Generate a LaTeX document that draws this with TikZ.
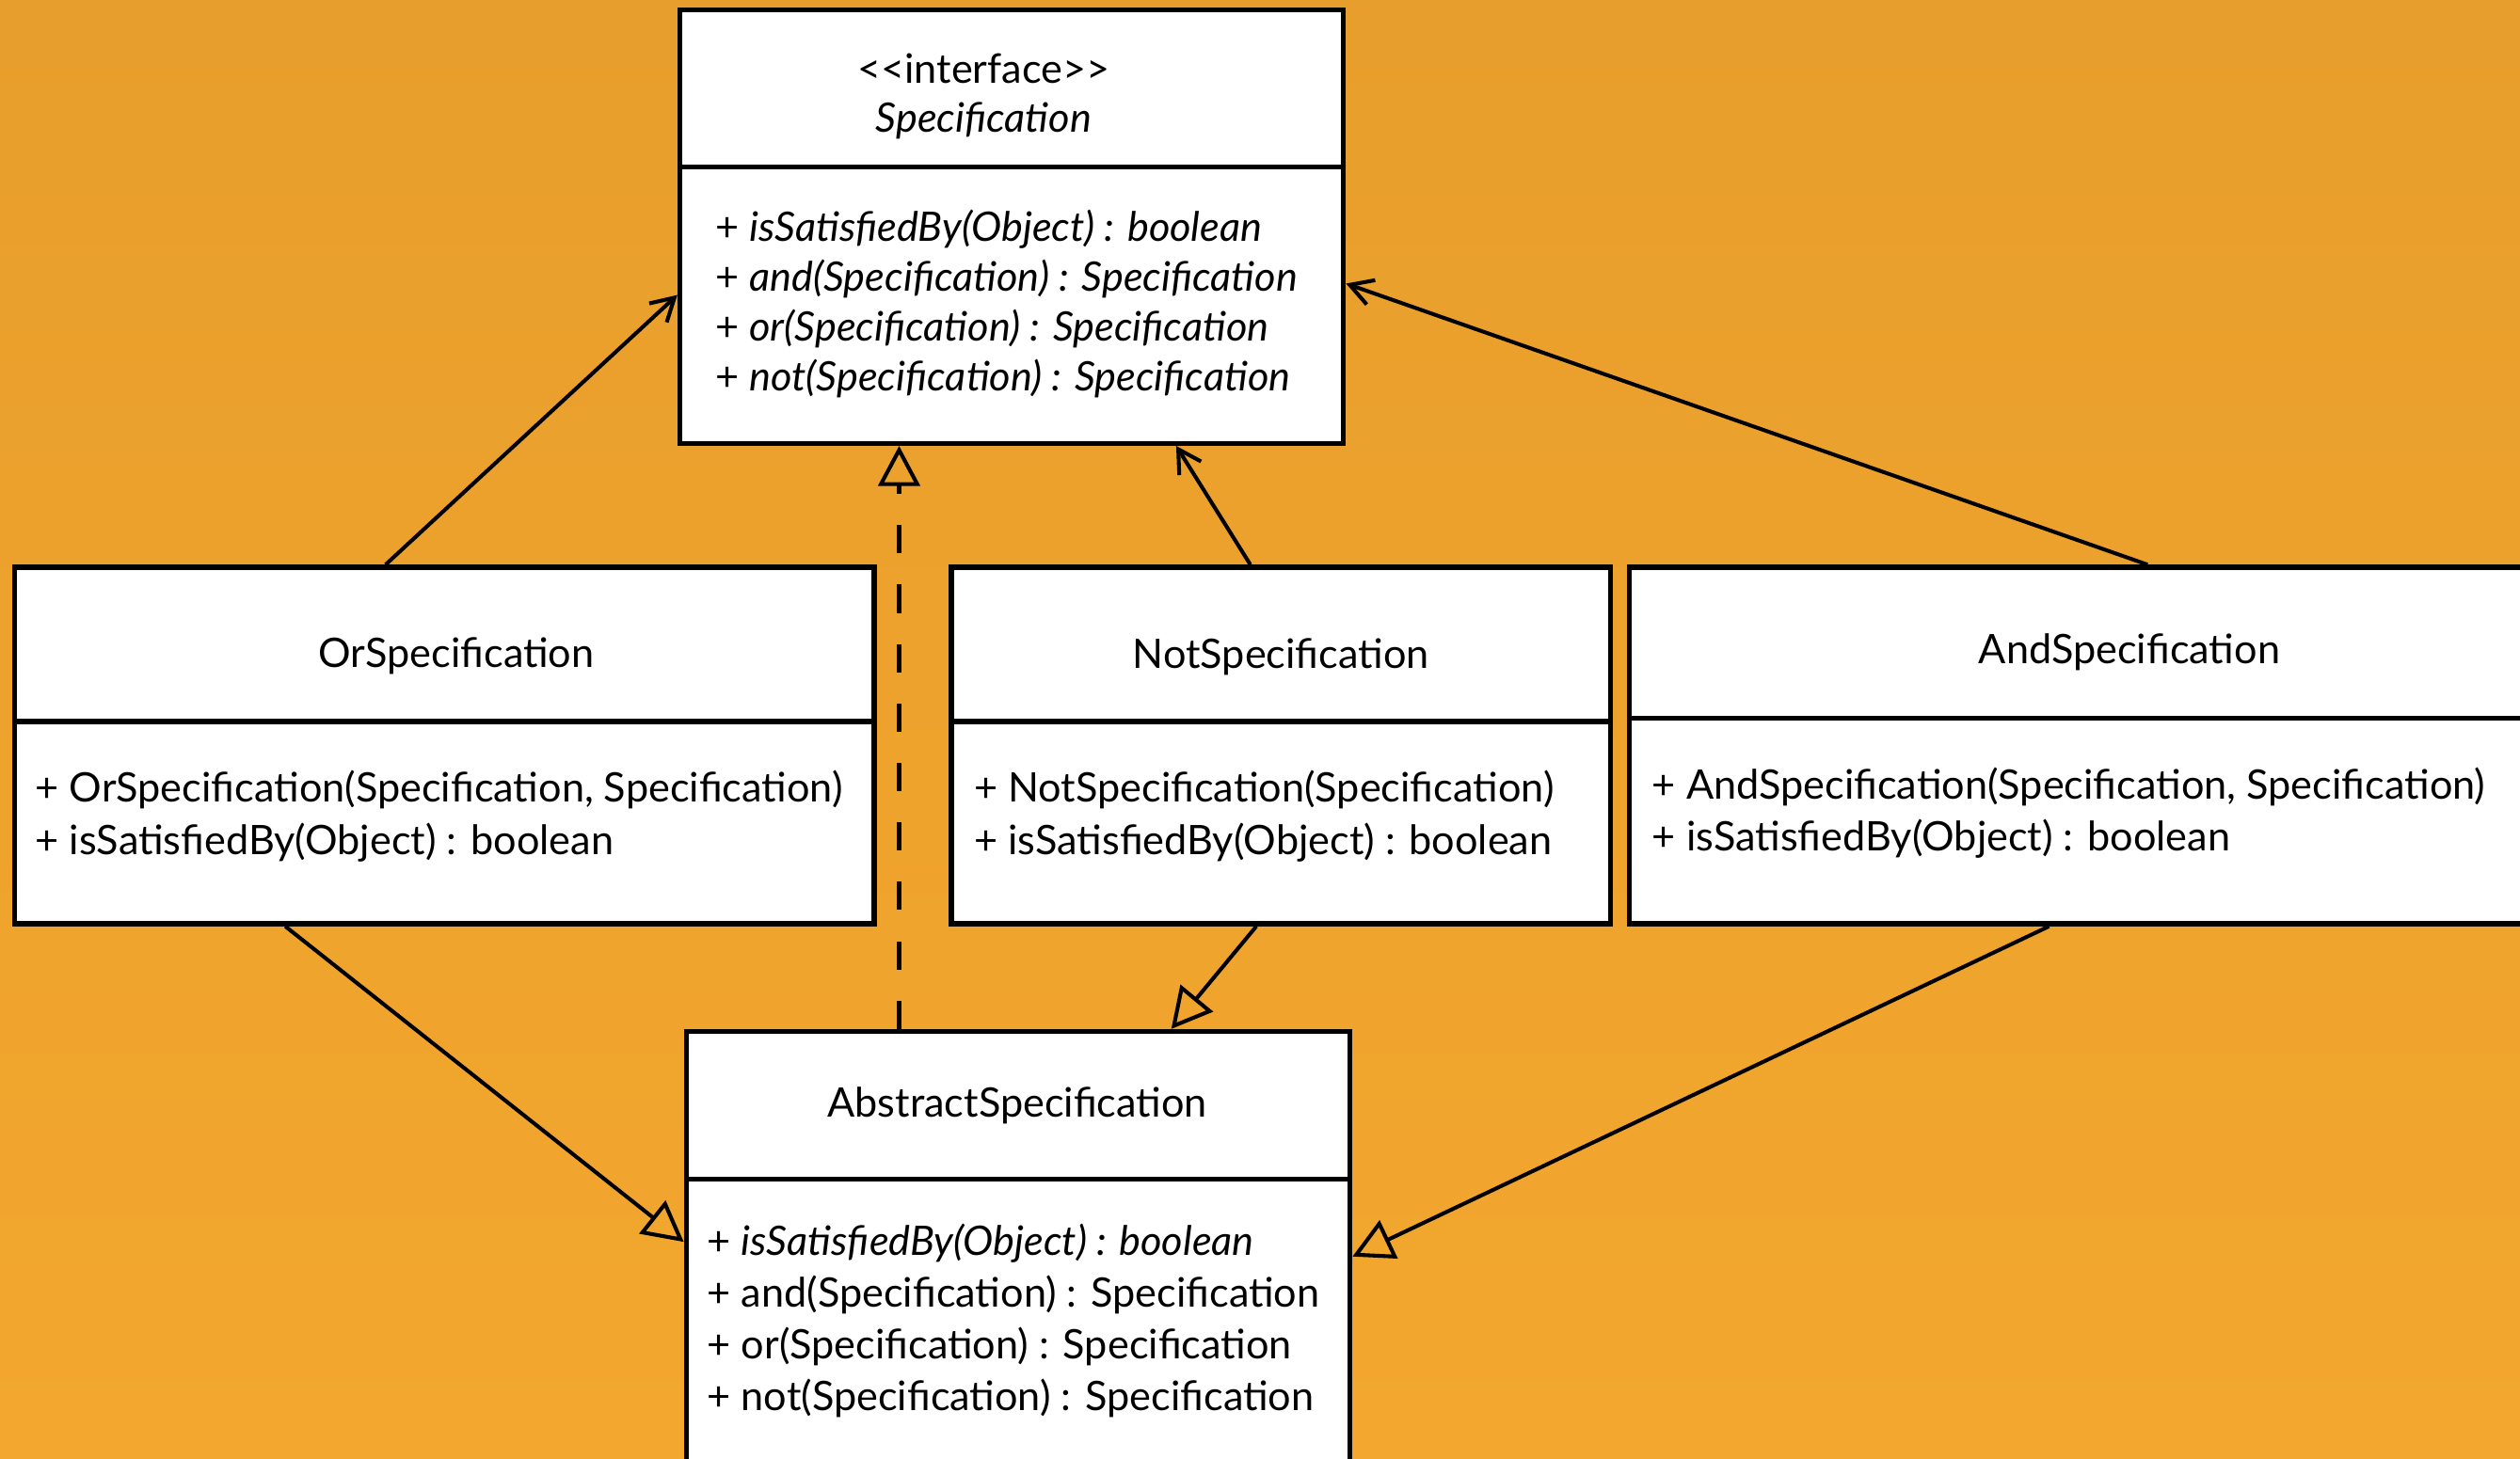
\documentclass[tikz,border=0pt]{standalone}
\usepackage{fontspec}
\setmainfont{Lato}
\usetikzlibrary{arrows.meta, calc, fit}
\definecolor{BgTop}{RGB}{232,158,44}
\definecolor{BgBottom}{RGB}{243,167,46}

\tikzset{
  classbox/.style={draw=black, fill=white, line width=4.4pt, inner sep=0pt},
  classline/.style={line width=4.4pt},
  classname/.style={font=\fontsize{36}{44}\selectfont, align=center},
  classops/.style={font=\fontsize{36}{46}\selectfont, align=left, anchor=west, inner sep=0pt},
  assocline/.style={line width=3.4pt, -{Straight Barb[length=0.7cm, width=0.8cm]}},
  inherit/.style={line width=3.4pt, -{Triangle[open, length=1.25cm, width=1.3cm]}},
  realize/.style={inherit, dash pattern=on 0.88cm off 0.97cm},
}

\begin{document}
\begin{tikzpicture}[x=0.05cm, y=-0.05cm]
\useasboundingbox (0,0) rectangle (1568,908);
\clip (0,0) rectangle (1568,908);
\shade[top color=BgTop, bottom color=BgBottom] (0,0) rectangle (1568,908);
% --- Specification (interface) ---
\node[classbox, fit={(423,6) (836,276)}] (spec) {};
\draw[classline] (423,104) -- (836,104);
\node[classname] (specName) at (612,60) {<{}<interface>{}>\\\textit{Specification}};
\node[classops, font=\fontsize{36}{44}\selectfont] (specOps) at (445,189) {%
  + \textit{isSatisfiedBy(Object) : boolean}\\
  + \textit{and(Specification) : Specification}\\
  + \textit{or(Specification) : Specification}\\
  + \textit{not(Specification) : Specification}};
% --- OrSpecification ---
\node[classbox, fit={(9,353) (544,575)}] (orSpec) {};
\draw[classline] (9,449) -- (544,449);
\node[classname] (orName) at (284,408) {OrSpecification};
\node[classops] (orOps) at (22,508) {%
  + OrSpecification(Specification, Specification)\\
  + isSatisfiedBy(Object) : boolean};
% --- NotSpecification ---
\node[classbox, fit={(592,353) (1002,575)}] (notSpec) {};
\draw[classline] (592,449) -- (1002,449);
\node[classname] (notName) at (797,409) {NotSpecification};
\node[classops] (notOps) at (606,508) {%
  + NotSpecification(Specification)\\
  + isSatisfiedBy(Object) : boolean};
% --- AndSpecification ---
\node[classbox, fit={(1014,353) (1636,575)}] (andSpec) {};
\draw[classline] (1014,447) -- (1636,447);
\node[classname] (andName) at (1325,406) {AndSpecification};
\node[classops] (andOps) at (1028,506) {%
  + AndSpecification(Specification, Specification)\\
  + isSatisfiedBy(Object) : boolean};
% --- AbstractSpecification ---
\node[classbox, fit={(427,642) (840,915)}] (absSpec) {};
\draw[classline] (427,734) -- (840,734);
\node[classname] (absName) at (633,688) {AbstractSpecification};
\node[classops] (absOps) at (440,822) {%
  + \textit{isSatisfiedBy(Object) : boolean}\\
  + and(Specification) : Specification\\
  + or(Specification) : Specification\\
  + not(Specification) : Specification};
% associations to the interface
\draw[assocline] ($(orSpec.north west)!.432!(orSpec.north east)$) -- ($(spec.north west)!.656!(spec.south west)$);
\draw[assocline] ($(notSpec.north west)!.454!(notSpec.north east)$) -- ($(spec.south west)!.746!(spec.south east)$);
\draw[assocline] ($(andSpec.north west)!.518!(andSpec.north east)$) -- ($(spec.north east)!.63!(spec.south east)$);
% realization
\coordinate (absTop) at ($(absSpec.north west)!.322!(absSpec.north east)$);
\draw[realize] (absTop) -- (absTop |- spec.south);
% generalizations
\draw[inherit] ($(orSpec.south west)!.316!(orSpec.south east)$) -- ($(absSpec.north west)!.48!(absSpec.south west)$);
\draw[inherit] ($(notSpec.south west)!.463!(notSpec.south east)$) -- ($(absSpec.north west)!.729!(absSpec.north east)$);
\draw[inherit] ($(andSpec.south west)!.42!(andSpec.south east)$) -- ($(absSpec.north east)!.513!(absSpec.south east)$);
\end{tikzpicture}
\end{document}
